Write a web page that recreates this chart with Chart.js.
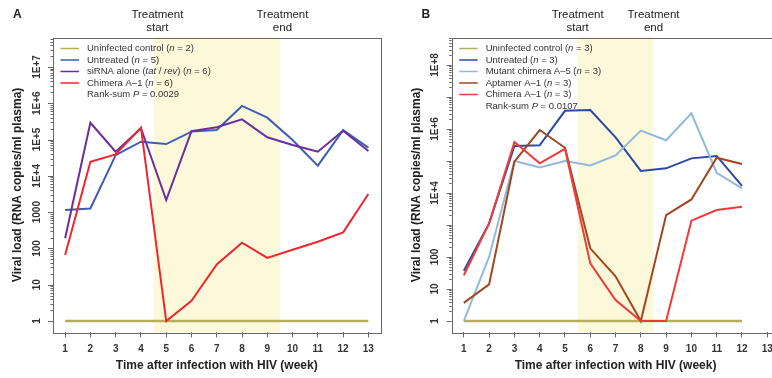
<!DOCTYPE html>
<html>
<head>
<meta charset="utf-8">
<script src="https://cdn.jsdelivr.net/npm/chart.js@4.4.1/dist/chart.umd.min.js"></script>
<style>
  html, body { margin: 0; padding: 0; background: #fff; }
  #wrap { position: relative; width: 772px; height: 378px; overflow: hidden; }
  #boxA { position: absolute; left: 0; top: 0; width: 386px; height: 378px; }
  #boxB { position: absolute; left: 386px; top: 0; width: 386px; height: 378px; overflow: hidden; }
  canvas { display: block; }
</style>
</head>
<body>
<div id="wrap">
  <div id="boxA"><canvas id="chartA" width="386" height="378"></canvas></div>
  <div id="boxB"><canvas id="chartB" width="400" height="378"></canvas></div>
</div>
<script>
// x axis
const weekTicks = [1, 2, 3, 4, 5, 6, 7, 8, 9, 10, 11, 12, 13];
const weekLabels = ['1', '2', '3', '4', '5', '6', '7', '8', '9', '10', '11', '12', '13'];

// panel A - weeks 1..13
const weeksA = [1, 2, 3, 4, 5, 6, 7, 8, 9, 10, 11, 12, 13];
const uninfectedA = [1, 1, 1, 1, 1, 1, 1, 1, 1, 1, 1, 1, 1];
const untreatedA = [1150, 1260, 37000, 87000, 75000, 165000, 182000, 840000, 400000, 97000, 19000, 182000, 60000];
const sirnaA = [190, 290000, 46000, 204000, 2150, 170000, 218000, 360000, 115000, 71000, 46000, 175000, 48000];
const chimeraA = [66, 24500, 39000, 213000, 1, 3.6, 36, 144, 55, 92, 153, 277, 3150];
const yTicksA = [1, 10, 100, 1000, 1e4, 1e5, 1e6, 1e7];
const yTickLabelsA = ['1', '10', '100', '1000', '1E+4', '1E+5', '1E+6', '1E+7'];

// panel B - weeks 1..12
const weeksB = [1, 2, 3, 4, 5, 6, 7, 8, 9, 10, 11, 12];
const uninfectedB = [1, 1, 1, 1, 1, 1, 1, 1, 1, 1, 1, 1];
const untreatedB = [37, 1120, 295000, 310000, 3700000, 3900000, 550000, 49000, 59000, 121000, 144000, 16600];
const mutantB = [1, 102, 100000, 63000, 100000, 73000, 150000, 890000, 445000, 3100000, 43000, 14000];
const aptamerB = [3.7, 14, 95000, 930000, 260000, 187, 25, 1, 2050, 6300, 127000, 81000];
const chimeraB = [27, 1120, 390000, 85000, 240000, 63, 4.5, 1, 1, 1370, 2950, 3740];
const yTicksB = [1, 10, 100, 1e4, 1e6, 1e8];
const yTickLabelsB = ['1', '10', '100', '1E+4', '1E+6', '1E+8'];

const FONT = "'Liberation Sans', Arial, sans-serif";
const AXIS = '#666';
const TEXT = '#333';

function pts(xs, ys) {
  return xs.map((w, i) => ({ x: w, y: ys[i] }));
}

// *text* marks italic parts
function drawRich(ctx, str, x, y, size) {
  str.split('*').forEach((t, i) => {
    ctx.font = (i % 2 ? 'italic ' : '') + size + 'px ' + FONT;
    ctx.fillText(t, x, y);
    x += ctx.measureText(t).width;
  });
}

function panelPlugin(cfg) {
  return {
    id: 'panel',
    beforeDatasetsDraw(chart) {
      const { ctx, chartArea: a, scales: { x } } = chart;
      const x0 = x.getPixelForValue(cfg.shade[0]);
      const x1 = x.getPixelForValue(cfg.shade[1]);
      ctx.save();
      ctx.fillStyle = '#fcf9da';
      ctx.fillRect(x0, a.top, x1 - x0, a.bottom - a.top);
      ctx.restore();
    },
    afterDraw(chart) {
      const { ctx, chartArea: a, scales: { x, y } } = chart;
      ctx.save();
      // box
      ctx.strokeStyle = AXIS;
      ctx.lineWidth = 1;
      ctx.strokeRect(Math.round(a.left) + 0.5, Math.round(a.top) + 0.5,
        Math.round(a.right - a.left), Math.round(a.bottom - a.top));

      // log ticks, majors longer
      ctx.beginPath();
      for (let d = 0; d <= 9; d++) {
        for (let m = 1; m <= 9; m++) {
          const v = m * Math.pow(10, d);
          if (v > y.max) continue;
          const py = Math.round(y.getPixelForValue(v)) + 0.5;
          const len = m === 1 ? 5 : 2.5;
          ctx.moveTo(a.left - len, py);
          ctx.lineTo(a.left, py);
        }
      }
      ctx.stroke();

      // rotated y labels
      ctx.fillStyle = TEXT;
      ctx.font = 'bold 10px ' + FONT;
      ctx.textAlign = 'center';
      ctx.textBaseline = 'middle';
      cfg.yTicks.forEach((v, i) => {
        ctx.save();
        ctx.translate(a.left - 16, y.getPixelForValue(v));
        ctx.rotate(-Math.PI / 2);
        ctx.fillText(cfg.yLabels[i], 0, 0);
        ctx.restore();
      });

      // axis titles
      ctx.fillStyle = '#222';
      ctx.font = 'bold 12px ' + FONT;
      ctx.fillText('Time after infection with HIV (week)', (a.left + a.right) / 2, 366);
      ctx.save();
      ctx.translate(a.left - 35, (a.top + a.bottom) / 2);
      ctx.rotate(-Math.PI / 2);
      ctx.fillText('Viral load (RNA copies/ml plasma)', 0, 0);
      ctx.restore();

      // treatment labels
      ctx.font = '11.5px ' + FONT;
      cfg.marks.forEach(([w, l1, l2]) => {
        const px = x.getPixelForValue(w);
        ctx.fillText(l1, px, 15);
        ctx.fillText(l2, px, 27.5);
      });

      // panel letter
      ctx.textAlign = 'left';
      ctx.font = 'bold 12px ' + FONT;
      ctx.fillText(cfg.letter, cfg.letterX, 15);

      // legend
      ctx.fillStyle = TEXT;
      cfg.legend.forEach(([color, label], i) => {
        const ly = 48.5 + i * 11.5;
        if (color) {
          ctx.strokeStyle = color;
          ctx.lineWidth = 1.5;
          ctx.beginPath();
          ctx.moveTo(a.left + 7.5, ly);
          ctx.lineTo(a.left + 26, ly);
          ctx.stroke();
        }
        drawRich(ctx, label, a.left + 34, ly, 9.5);
      });
      ctx.restore();
    }
  };
}

function line(data, color, order, width) {
  return {
    data, borderColor: color, borderWidth: width || 2, pointRadius: 0,
    fill: false, tension: 0, order
  };
}

function makeChart(id, datasets, cfg) {
  return new Chart(document.getElementById(id), {
    type: 'line',
    data: { datasets },
    options: {
      responsive: false,
      animation: false,
      events: [],
      layout: { padding: { left: 0, top: 37.5, right: cfg.padRight, bottom: 0 } },
      plugins: { legend: { display: false }, tooltip: { enabled: false } },
      scales: {
        x: {
          type: 'linear', min: 0.52, max: 13.48,
          afterBuildTicks: s => { s.ticks = weekTicks.map(v => ({ value: v })); },
          afterFit: s => { s.height = 378 - 332.3; },
          grid: { drawOnChartArea: false, drawTicks: true, tickLength: 5, color: AXIS },
          border: { display: false },
          ticks: {
            autoSkip: false, maxRotation: 0, padding: 6, color: TEXT,
            font: { family: FONT, size: 10, weight: 'bold' },
            callback: (v, i) => weekLabels[i]
          }
        },
        y: {
          type: 'logarithmic', min: cfg.yMin, max: cfg.yMax,
          afterFit: s => { s.width = cfg.left; },
          grid: { display: false },
          border: { display: false },
          ticks: { display: false }
        }
      }
    },
    plugins: [panelPlugin(cfg)]
  });
}

makeChart('chartA', [
  line(pts(weeksA, uninfectedA), '#b7ad5e', 4, 2.5),
  line(pts(weeksA, untreatedA), '#3d5db6', 3),
  line(pts(weeksA, sirnaA), '#6a2f9b', 2),
  line(pts(weeksA, chimeraA), '#f0262c', 1)
], {
  left: 53, padRight: 5.5,
  yMin: Math.pow(10, -0.31), yMax: Math.pow(10, 7.81),
  yTicks: yTicksA, yLabels: yTickLabelsA,
  shade: [4.5, 9.5],
  marks: [[4.65, 'Treatment', 'start'], [9.6, 'Treatment', 'end']],
  letter: 'A', letterX: 13,
  legend: [
    ['#b7ad5e', 'Uninfected control (*n* = 2)'],
    ['#3d5db6', 'Untreated (*n* = 5)'],
    ['#6a2f9b', 'siRNA alone (*tat* / *rev*) (*n* = 6)'],
    ['#f0262c', 'Chimera A\u20131 (*n* = 6)'],
    [null, 'Rank-sum *P* = 0.0029']
  ]
});

makeChart('chartB', [
  line(pts(weeksB, uninfectedB), '#b7ad5e', 5, 2.5),
  line(pts(weeksB, untreatedB), '#2c48a6', 4),
  line(pts(weeksB, mutantB), '#92b9d9', 3),
  line(pts(weeksB, aptamerB), '#a3461e', 2),
  line(pts(weeksB, chimeraB), '#f03a3a', 1)
], {
  left: 65.7, padRight: 6.6,
  yMin: Math.pow(10, -0.353), yMax: Math.pow(10, 8.86),
  yTicks: yTicksB, yLabels: yTickLabelsB,
  shade: [5.5, 8.5],
  marks: [[5.5, 'Treatment', 'start'], [8.5, 'Treatment', 'end']],
  letter: 'B', letterX: 35.5,
  legend: [
    ['#b7ad5e', 'Uninfected control (*n* = 3)'],
    ['#2c48a6', 'Untreated (*n* = 3)'],
    ['#92b9d9', 'Mutant chimera A\u20135 (*n* = 3)'],
    ['#a3461e', 'Aptamer A\u20131 (*n* = 3)'],
    ['#f03a3a', 'Chimera A\u20131 (*n* = 3)'],
    [null, 'Rank-sum *P* = 0.0107']
  ]
});
</script>
</body>
</html>
